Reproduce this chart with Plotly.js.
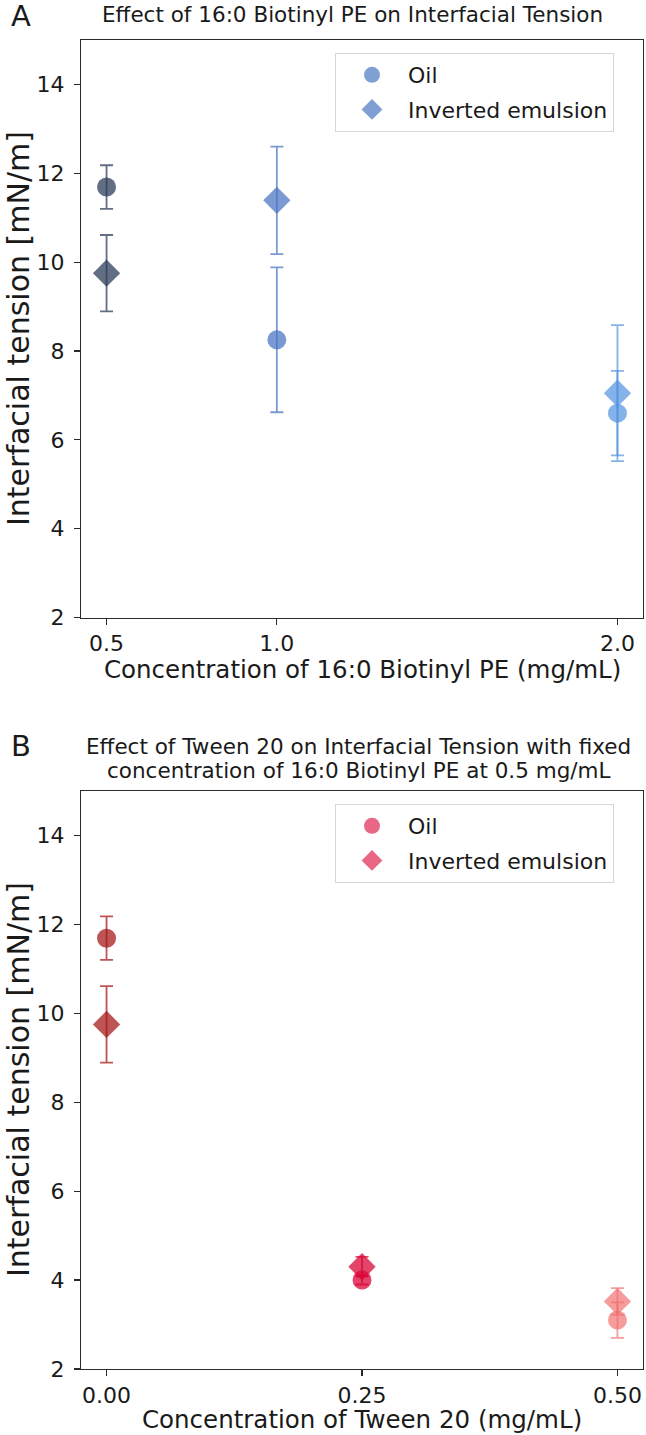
<!DOCTYPE html>
<html>
<head>
<meta charset="utf-8">
<script src="https://cdn.plot.ly/plotly-3.0.1.min.js"></script>
<style>
  html, body { margin: 0; padding: 0; background: #fff; }
  #chart { width: 646px; height: 1435px; }
</style>
</head>
<body>
<div id="chart"></div>
<script>
// Panel A: 16:0 Biotinyl PE concentration series
const biotinylConc = [0.5, 1.0, 2.0];
const biotinylTickText = ['0.5', '1.0', '2.0'];
const biotinylOil = [11.69, 8.25, 6.6];
const biotinylOilErr = [0.49, 1.63, 0.95];
const biotinylInv = [9.75, 11.39, 7.05];
const biotinylInvErr = [0.86, 1.21, 1.53];

// Panel B: Tween 20 concentration series (Biotinyl PE fixed at 0.5 mg/mL)
const tweenConc = [0.0, 0.25, 0.5];
const tweenTickText = ['0.00', '0.25', '0.50'];
const tweenOil = [11.69, 4.0, 3.1];
const tweenOilErr = [0.49, 0.1, 0.4];
const tweenInv = [9.75, 4.3, 3.52];
const tweenInvErr = [0.86, 0.22, 0.3];

const yTicks = [2, 4, 6, 8, 10, 12, 14];
const seriesNames = ['Oil', 'Inverted emulsion'];

// Point colours (one per concentration) and legend swatch colours
const blueShades = ['rgba(42,60,88,0.74)', 'rgba(72,115,196,0.72)', 'rgba(80,145,224,0.7)'];
const redShades = ['rgba(165,20,20,0.72)', 'rgba(218,5,55,0.75)', 'rgba(240,110,110,0.68)'];
const blueLegend = 'rgba(86,128,198,0.75)';
const redLegend = 'rgba(224,43,84,0.72)';

const FONT = 'DejaVu Sans, sans-serif';
const INK = '#1a1a1a';

// Figure geometry helpers (pixel -> paper coordinates)
const W = 646, H = 1435, ML = 81, MR = 3;
const PW = W - ML - MR;
const px = x => (x - ML) / PW;
const py = y => (H - y) / H;

const CIRCLE = 19, DIAMOND = 21;

function pointTraces(xs, oil, oilErr, inv, invErr, colors, xa, ya) {
  const out = [];
  xs.forEach((x, i) => {
    out.push({
      type: 'scatter', mode: 'markers', x: [x], y: [oil[i]],
      xaxis: xa, yaxis: ya, showlegend: false, hoverinfo: 'skip',
      marker: { symbol: 'circle', size: CIRCLE, color: colors[i], line: { width: 0 } },
      error_y: { type: 'data', array: [oilErr[i]], visible: true, color: colors[i], thickness: 1.8, width: 6.5 }
    });
    out.push({
      type: 'scatter', mode: 'markers', x: [x], y: [inv[i]],
      xaxis: xa, yaxis: ya, showlegend: false, hoverinfo: 'skip',
      marker: { symbol: 'diamond', size: DIAMOND, color: colors[i], line: { width: 0 } },
      error_y: { type: 'data', array: [invErr[i]], visible: true, color: colors[i], thickness: 1.8, width: 6.5 }
    });
  });
  return out;
}

function legendTraces(color, xa, ya, legendId) {
  return seriesNames.map((name, k) => ({
    type: 'scatter', mode: 'markers', x: [null], y: [null],
    xaxis: xa, yaxis: ya, name: name, legend: legendId, legendgroup: legendId + k,
    marker: { symbol: k === 0 ? 'circle' : 'diamond', size: k === 0 ? CIRCLE : DIAMOND, color: color }
  }));
}

const data = [].concat(
  pointTraces(biotinylConc, biotinylOil, biotinylOilErr, biotinylInv, biotinylInvErr, blueShades, 'x', 'y'),
  pointTraces(tweenConc, tweenOil, tweenOilErr, tweenInv, tweenInvErr, redShades, 'x2', 'y2'),
  legendTraces(blueLegend, 'x', 'y', 'legend'),
  legendTraces(redLegend, 'x2', 'y2', 'legend2')
);

const axisCommon = {
  showline: true, mirror: true, linecolor: '#2b2b2b', linewidth: 1.2,
  ticks: 'outside', ticklen: 6, tickwidth: 1.2, tickcolor: '#2b2b2b',
  showgrid: false, zeroline: false,
  tickfont: { family: FONT, size: 22, color: INK },
  automargin: false, fixedrange: true
};

const legendCommon = {
  font: { family: FONT, size: 22, color: INK },
  bgcolor: '#ffffff', bordercolor: '#d6d6d6', borderwidth: 1,
  xanchor: 'left', yanchor: 'top', itemwidth: 62,
  tracegroupgap: 3, traceorder: 'grouped', itemclick: false, itemdoubleclick: false
};

const layout = {
  width: W, height: H,
  margin: { l: ML, r: MR, t: 0, b: 0 },
  paper_bgcolor: '#ffffff', plot_bgcolor: '#ffffff',
  showlegend: true,
  xaxis: Object.assign({}, axisCommon, {
    domain: [0, 1], anchor: 'y', range: [0.425, 2.075],
    tickvals: biotinylConc, ticktext: biotinylTickText
  }),
  yaxis: Object.assign({}, axisCommon, {
    domain: [py(617.5), py(40)], anchor: 'x', range: [2, 15], tickvals: yTicks,
    ticklabelstandoff: 5
  }),
  xaxis2: Object.assign({}, axisCommon, {
    domain: [0, 1], anchor: 'y2', range: [-0.025, 0.525],
    tickvals: tweenConc, ticktext: tweenTickText
  }),
  yaxis2: Object.assign({}, axisCommon, {
    domain: [py(1369), py(791)], anchor: 'x2', range: [2, 15], tickvals: yTicks,
    ticklabelstandoff: 5
  }),
  legend: Object.assign({}, legendCommon, { x: px(335), y: py(53) }),
  legend2: Object.assign({}, legendCommon, { x: px(335), y: py(804) }),
  annotations: [
    { text: 'A', x: px(21), y: py(16), font: { size: 29 } },
    { text: 'Effect of 16:0 Biotinyl PE on Interfacial Tension', x: px(352), y: py(14), font: { size: 21.5 } },
    { text: 'Concentration of 16:0 Biotinyl PE (mg/mL)', x: px(362), y: py(669), font: { size: 24.5 } },
    { text: 'Interfacial tension [mN/m]', x: px(18), y: py(329), textangle: -90, font: { size: 30 } },
    { text: 'B', x: px(21), y: py(746), font: { size: 29 } },
    { text: 'Effect of Tween 20 on Interfacial Tension with fixed', x: px(358), y: py(746), font: { size: 21.5 } },
    { text: 'concentration of 16:0 Biotinyl PE at 0.5 mg/mL', x: px(358), y: py(771), font: { size: 21.5 } },
    { text: 'Concentration of Tween 20 (mg/mL)', x: px(362), y: py(1419), font: { size: 24.5 } },
    { text: 'Interfacial tension [mN/m]', x: px(18), y: py(1080), textangle: -90, font: { size: 30 } }
  ].map(a => Object.assign({
    xref: 'paper', yref: 'paper', showarrow: false,
    xanchor: 'center', yanchor: 'middle'
  }, a, { font: Object.assign({ family: FONT, color: INK }, a.font) }))
};

Plotly.newPlot('chart', data, layout, { displayModeBar: false, staticPlot: true });
</script>
</body>
</html>
